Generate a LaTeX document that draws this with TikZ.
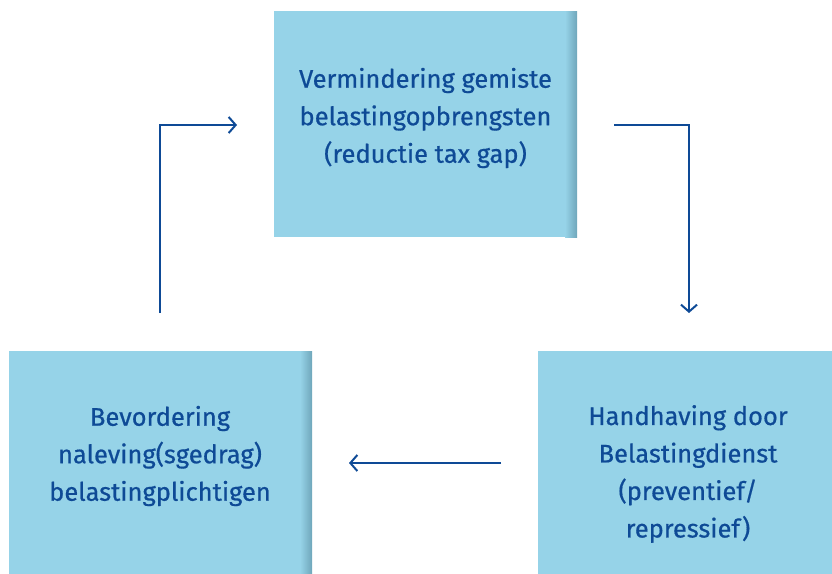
\documentclass[tikz,border=0pt]{standalone}
\usepackage{fontspec}
\setmainfont{Fira Sans}[FakeBold=0.6,UprightFeatures={FakeBold=0.6}]
\usetikzlibrary{arrows.meta}
\definecolor{boxfill}{HTML}{96D3E8}
\definecolor{boxshade}{HTML}{6FA6BA}
\definecolor{ink}{HTML}{0E4A96}
\tikzset{
  box/.style={fill=boxfill, draw=none, minimum width=303pt, minimum height=226pt, inner sep=0pt},
  lbl/.style={text=ink, align=center, font=\fontsize{25.5}{37.5}\selectfont},
  conn/.style={draw=ink, line width=2.4pt, -{Straight Barb[length=7pt,width=16pt,line width=2pt]}},
}
\begin{document}
\begin{tikzpicture}[x=1pt,y=-1pt]
\useasboundingbox (0,0) rectangle (832,573);
% boxes
\node[box, anchor=north west] (top) at (274,11) {};
\shade[left color=boxfill, right color=boxshade] (565,11) rectangle (577,237);
\node[box, anchor=north west] (left) at (9,351) {};
\shade[left color=boxfill, right color=boxshade] (300,351) rectangle (312,573);
\node[box, anchor=north west, minimum width=294pt] (right) at (538,351) {};
% labels
\node[lbl] (ttop) at (425.5,118) {Vermindering gemiste\\belastingopbrengsten\\(reductie tax gap)};
\node[lbl] (tleft) at (160,456) {Bevordering\\naleving(sgedrag)\\belastingplichtigen};
\node[lbl] (tright) at (688,474) {Handhaving door\\Belastingdienst\\(preventief/\\repressief)};
% connector ends
\coordinate (a1) at (160,313);
\coordinate (a2) at (237,125);
\coordinate (b1) at (614,125);
\coordinate (b2) at (689,313);
\coordinate (c1) at (501,463);
\coordinate (c2) at (349,463);
\draw[conn] (a1) |- (a2);
\draw[conn] (b1) -| (b2);
\draw[conn] (c1) -- (c2);
\end{tikzpicture}
\end{document}
